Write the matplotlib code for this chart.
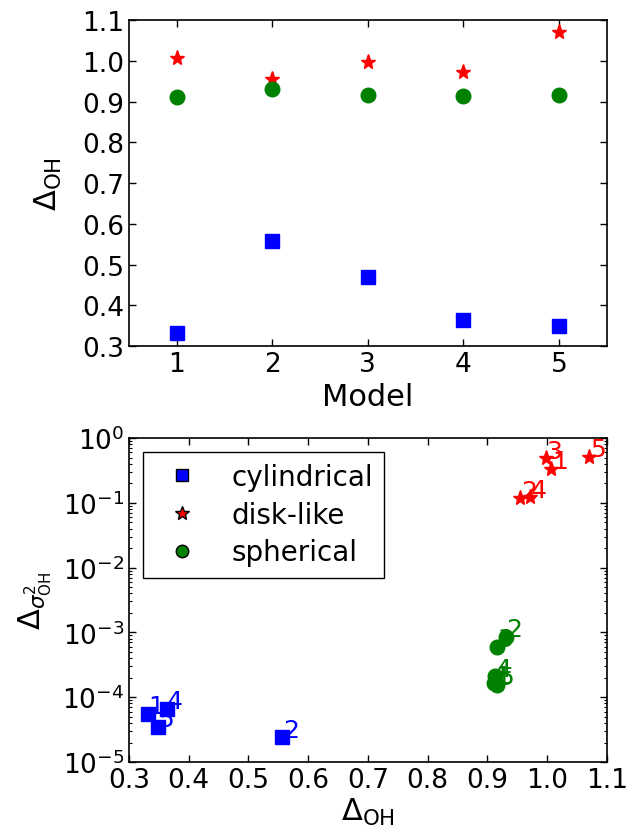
import matplotlib
matplotlib.use('Agg')
import matplotlib.pyplot as plt
from matplotlib.lines import Line2D
import numpy as np

models = [1, 2, 3, 4, 5]
labels = ['1', '2', '3', '4', '5']

# Delta_OH per model
cyl_oh = [0.332, 0.557, 0.470, 0.363, 0.348]
disk_oh = [1.007, 0.955, 0.998, 0.972, 1.071]
sph_oh = [0.912, 0.931, 0.916, 0.913, 0.917]

# Delta sigma^2_OH per model (cylindrical model 3 falls below the plotted range)
cyl_sig = [5.5e-5, 2.4e-5, 6e-6, 6.6e-5, 3.5e-5]
disk_sig = [0.333, 0.118, 0.49, 0.121, 0.516]
sph_sig = [1.65e-4, 8.6e-4, 6.0e-4, 2.1e-4, 1.55e-4]

fig = plt.figure(figsize=(6.32, 8.37), dpi=100)

#top panel: Delta_OH vs model
ax1 = fig.add_axes([0.204, 0.5854, 0.756, 0.3895])
ax1.plot(models, cyl_oh, 's', color='b', mec='b', ms=10, ls='none')
ax1.plot(models, disk_oh, '*', color='r', mec='r', ms=11, ls='none')
ax1.plot(models, sph_oh, 'o', color='g', mec='g', ms=10.5, ls='none')
ax1.set_xlim(0.5, 5.5)
ax1.set_ylim(0.3, 1.1)
ax1.set_xticks(models)
ax1.set_yticks(np.arange(0.3, 1.11, 0.1))
ax1.set_yticklabels(['%.1f' % v for v in np.arange(0.3, 1.11, 0.1)])
ax1.set_xlabel('Model', fontsize=22)
ax1.set_ylabel(r'$\Delta_{\rm OH}$', fontsize=22, labelpad=13)

#bottom panel: Delta sigma^2 vs Delta_OH
ax2 = fig.add_axes([0.204, 0.0884, 0.756, 0.3871])
ax2.plot(cyl_oh, cyl_sig, 's', color='b', mec='b', ms=10, ls='none')
ax2.plot(disk_oh, disk_sig, '*', color='r', mec='r', ms=11, ls='none')
ax2.plot(sph_oh, sph_sig, 'o', color='g', mec='g', ms=10.5, ls='none')
for xs, ys, c in [(cyl_oh, cyl_sig, 'b'), (disk_oh, disk_sig, 'r'), (sph_oh, sph_sig, 'g')]:
    for x, y, lab in zip(xs, ys, labels):
        if 1e-5 < y < 1:
            ax2.text(x + 0.001, y * 1.02, lab, color=c, fontsize=18, clip_on=True)
ax2.set_yscale('log')
ax2.set_xlim(0.3, 1.1)
ax2.set_ylim(1e-5, 1e0)
ax2.set_xticks(np.arange(0.3, 1.11, 0.1))
ax2.set_xticklabels(['%.1f' % v for v in np.arange(0.3, 1.11, 0.1)])
ax2.set_xlabel(r'$\Delta_{\rm OH}$', fontsize=22, labelpad=2)
ax2.set_ylabel(r'$\Delta_{\sigma^2_{\rm OH}}$', fontsize=22, labelpad=6)

handles = [Line2D([], [], marker='s', color='b', mec='k', ls='none', ms=9),
           Line2D([], [], marker='*', color='r', mec='k', ls='none', ms=10),
           Line2D([], [], marker='o', color='g', mec='k', ls='none', ms=9)]
leg = ax2.legend(handles, ['cylindrical', 'disk-like', 'spherical'], loc='upper left',
                 fontsize=20, numpoints=1, fancybox=False, framealpha=1,
                 handlelength=2.0, handletextpad=0.8, borderpad=0.4, labelspacing=0.35)
leg.get_frame().set_edgecolor('k')

for ax in (ax1, ax2):
    ax.tick_params(which='both', direction='in', top=True, right=True, labelsize=19)
    ax.tick_params(which='major', length=5, width=1)
    ax.tick_params(which='minor', length=2.5, width=0.8)
    for sp in ax.spines.values():
        sp.set_linewidth(1.2)

fig.savefig('out.png', dpi=100)
